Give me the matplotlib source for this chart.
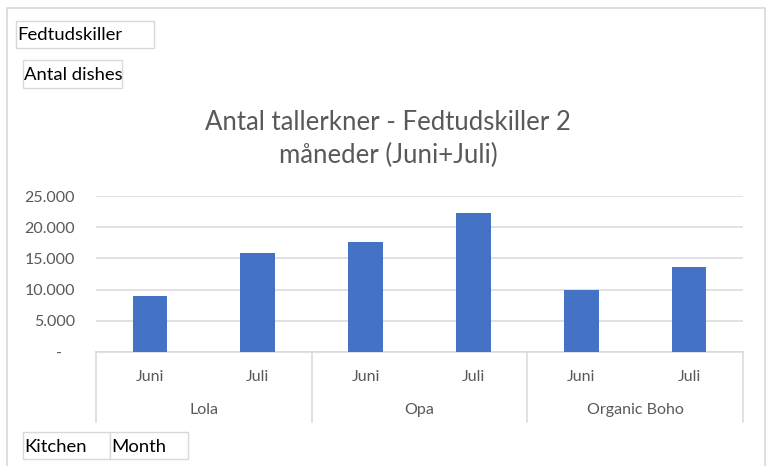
import matplotlib
matplotlib.use("Agg")
import matplotlib.pyplot as plt
from matplotlib.patches import Rectangle
from matplotlib.lines import Line2D
from matplotlib.ticker import FuncFormatter
import matplotlib.transforms as mtransforms

plt.rcParams['font.family'] = ['Lato', 'DejaVu Sans']

kitchens = ["Lola", "Opa", "Organic Boho"]
months = ["Juni", "Juli"]
values = [9000, 15900, 17700, 22300, 10000, 13600]
yticks = [0, 5000, 10000, 15000, 20000, 25000]
title = "Antal tallerkner - Fedtudskiller 2\nmåneder (Juni+Juli)"

W, H = 766, 466
fig = plt.figure(figsize=(W / 100, H / 100), dpi=100)

def fx(x):
    return x / W

def fy(y):
    return 1 - y / H

GRAY_TXT = "#595959"
GRID = "#D9D9D9"
TICK_FS = 11.5

# outer chart border
fig.add_artist(Rectangle((fx(7), fy(470)), fx(765) - fx(7), fy(8) - fy(470),
                         transform=fig.transFigure, fill=False,
                         edgecolor="#D9D9D9", lw=1.2, clip_on=False))

# plot area
L, R, T, B = 96, 743, 196, 352
ax = fig.add_axes([fx(L), fy(B), fx(R) - fx(L), fy(T) - fy(B)])
n = len(values)
xs = list(range(n))
ax.bar(xs, values, width=0.32, color="#4472C4", zorder=3)
ax.set_xlim(-0.5, n - 0.5)
ax.set_ylim(0, 25000)
ax.set_yticks(yticks)
ax.yaxis.set_major_formatter(FuncFormatter(
    lambda v, p: "-" if v == 0 else f"{int(v):,}".replace(",", ".")))
ax.tick_params(axis="y", length=0, pad=15, labelsize=TICK_FS, labelcolor=GRAY_TXT)
ax.set_xticks([])
ax.grid(axis="y", color=GRID, lw=1.1, zorder=0)
for s in ["top", "right", "left"]:
    ax.spines[s].set_visible(False)
ax.spines["bottom"].set_color(GRID)
ax.spines["bottom"].set_linewidth(1.1)

# shift "-" label left (accounting format padding)
fig.canvas.draw()
for t in ax.get_yticklabels():
    if t.get_text() == "-":
        t.set_transform(t.get_transform() + mtransforms.ScaledTranslation(-13 / 100, 0, fig.dpi_scale_trans))

# category labels
trans = mtransforms.blended_transform_factory(ax.transData, fig.transFigure)
for i, v in enumerate(values):
    ax.text(i, fy(377), months[i % len(months)], transform=trans, ha="center",
            va="center", fontsize=TICK_FS, color=GRAY_TXT, clip_on=False)
for k, name in enumerate(kitchens):
    c = k * len(months) + (len(months) - 1) / 2
    ax.text(c, fy(410), name, transform=trans, ha="center", va="center",
            fontsize=TICK_FS, color=GRAY_TXT, clip_on=False)
for k in range(len(kitchens) + 1):
    xb = k * len(months) - 0.5
    ax.add_line(Line2D([xb, xb], [fy(B), fy(422)], transform=trans,
                       color=GRID, lw=1.1, clip_on=False))

# title
fig.text(fx(388), fy(139), title, ha="center", va="center", fontsize=18.5,
         color=GRAY_TXT, linespacing=1.4)

# field buttons
def button(x0, y0, x1, y1, label):
    fig.add_artist(Rectangle((fx(x0), fy(y1)), fx(x1) - fx(x0), fy(y0) - fy(y1),
                             transform=fig.transFigure, facecolor="white",
                             edgecolor="#D9D9D9", lw=1.0))
    fig.text(fx(x0 + 1), fy((y0 + y1) / 2 + 1), label, ha="left", va="center",
             fontsize=13.3, color="black")

button(16, 21, 154, 48, "Fedtudskiller")
button(23, 60, 122, 88, "Antal dishes")
button(23, 432, 110, 459, "Kitchen")
button(110, 432, 188, 459, "Month")

fig.savefig("out.png", dpi=100)
